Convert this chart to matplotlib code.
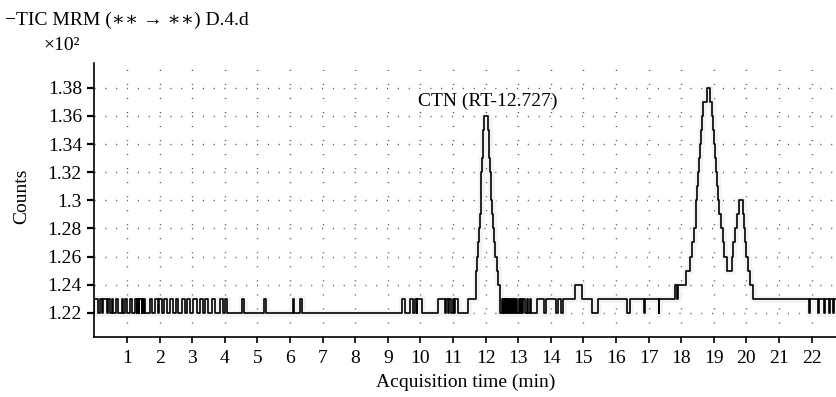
import numpy as np
import matplotlib
matplotlib.use("Agg")
import matplotlib.pyplot as plt

# ── Dados lidos do cromatograma (tempo em min, contagens x10^2) ─────────────
# ruído inicial: pulsos de 1.23 sobre a linha de base 1.22 (início, fim)
pulsos_ini = [(0.00, 0.12), (0.17, 0.22), (0.27, 0.38), (0.43, 0.48), (0.53, 0.58),
              (0.66, 0.73), (0.84, 0.89), (0.94, 1.01), (1.09, 1.14), (1.25, 1.30),
              (1.32, 1.36), (1.38, 1.45), (1.47, 1.50), (1.52, 1.55), (1.71, 1.76),
              (1.86, 1.96), (1.99, 2.06), (2.14, 2.24), (2.32, 2.42), (2.50, 2.57),
              (2.68, 2.78), (2.83, 2.93), (3.03, 3.14), (3.24, 3.34), (3.39, 3.49),
              (3.60, 3.70), (3.85, 3.95), (4.02, 4.08), (4.52, 4.58), (5.20, 5.27),
              (6.08, 6.13), (6.30, 6.36), (9.43, 9.52), (9.68, 9.78), (9.83, 9.88),
              (9.91, 10.04), (10.55, 10.74), (10.79, 10.84), (10.89, 10.95),
              (11.00, 11.03), (11.07, 11.16)]

# pico CTN (degraus: tempo de início, nível)
ctn_t = [11.47, 11.69, 11.72, 11.75, 11.78, 11.81, 11.83, 11.85, 11.87, 11.89, 11.91,
         11.93, 11.95, 12.06, 12.09, 12.11, 12.13, 12.16, 12.18, 12.21, 12.24, 12.27,
         12.30, 12.34, 12.38, 12.44]
ctn_y = [1.23, 1.24, 1.25, 1.26, 1.27, 1.28, 1.29, 1.30, 1.32, 1.33, 1.34,
         1.35, 1.36, 1.35, 1.34, 1.33, 1.32, 1.31, 1.30, 1.29, 1.28, 1.27,
         1.26, 1.25, 1.24, 1.22]

# região após o CTN até o início do pico duplo
meio_t = [12.49, 12.52, 12.54, 12.57, 12.59, 12.62, 12.64, 12.67, 12.69, 12.73, 12.75,
          12.78, 12.80, 12.84, 12.86, 12.90, 12.92, 12.97, 13.02, 13.06, 13.08, 13.13,
          13.16, 13.21, 13.26, 13.30, 13.36, 13.39, 13.58, 13.80, 13.84, 14.17, 14.21,
          14.30, 14.38, 14.74, 14.96, 15.25, 15.45, 16.33, 16.42, 16.85, 16.88, 17.31,
          17.33]
meio_y = [1.23, 1.22, 1.23, 1.22, 1.23, 1.22, 1.23, 1.22, 1.23, 1.22, 1.23,
          1.22, 1.23, 1.22, 1.23, 1.22, 1.23, 1.22, 1.23, 1.22, 1.23, 1.22,
          1.23, 1.22, 1.23, 1.22, 1.23, 1.22, 1.23, 1.22, 1.23, 1.22, 1.23,
          1.22, 1.23, 1.24, 1.23, 1.22, 1.23, 1.22, 1.23, 1.22, 1.23, 1.22,
          1.23]

# pico duplo (~18.8 e ~19.8 min) e cauda final
duplo_t = [17.82, 17.86, 17.90, 18.14, 18.26, 18.34, 18.40, 18.44, 18.47, 18.50, 18.53,
           18.56, 18.58, 18.61, 18.64, 18.68, 18.78, 18.88, 18.94, 18.98, 19.01, 19.05,
           19.08, 19.11, 19.14, 19.17, 19.22, 19.27, 19.32, 19.42, 19.55, 19.60, 19.65,
           19.70, 19.78, 19.89, 19.92, 19.96, 20.00, 20.05, 20.10, 20.19, 21.92, 21.95,
           22.20, 22.23, 22.37, 22.40, 22.55, 22.58, 22.66, 22.69, 22.75]
duplo_y = [1.24, 1.23, 1.24, 1.25, 1.26, 1.27, 1.28, 1.29, 1.30, 1.31, 1.32,
           1.33, 1.34, 1.35, 1.36, 1.37, 1.38, 1.37, 1.36, 1.35, 1.34, 1.33,
           1.32, 1.31, 1.30, 1.29, 1.28, 1.27, 1.26, 1.25, 1.26, 1.27, 1.28,
           1.29, 1.30, 1.29, 1.28, 1.27, 1.26, 1.25, 1.24, 1.23, 1.22, 1.23,
           1.22, 1.23, 1.22, 1.23, 1.22, 1.23, 1.22, 1.23, 1.23]

xticks = list(range(1, 23))
yticks = [1.22, 1.24, 1.26, 1.28, 1.3, 1.32, 1.34, 1.36, 1.38]
ytick_labels = ["1.22", "1.24", "1.26", "1.28", "1.3", "1.32", "1.34", "1.36", "1.38"]

# ── Monta o traço em degraus ────────────────────────────────────────────────
tt, yy = [0.0], [1.22]
for a, b in pulsos_ini:
    tt += [a, b]
    yy += [1.23, 1.22]
tt += ctn_t + meio_t + duplo_t
yy += ctn_y + meio_y + duplo_y

plt.rcParams["font.family"] = ["Liberation Serif", "DejaVu Serif"]
plt.rcParams["lines.scale_dashes"] = False
FS = 14

fig = plt.figure(figsize=(8.36, 3.97), dpi=100)
ax = fig.add_axes([0.113, 0.151, 0.887, 0.690])

# grade pontilhada
for x in xticks:
    ax.axvline(x, color="#555555", lw=1.0, dashes=(0.8, 9.3), zorder=0)
for y in yticks:
    ax.axhline(y, color="#555555", lw=1.0, dashes=(0.8, 7.0), zorder=0)

ax.plot(tt, yy, drawstyle="steps-post", color="#f3f3f3", lw=5, zorder=1)
ax.plot(tt, yy, drawstyle="steps-post", color="black", lw=1.2, zorder=2)

ax.text(9.93, 1.3707, "CTN (RT-12.727)", fontsize=FS, va="center", ha="left")

ax.set_xlim(0, 22.75)
ax.set_ylim(1.2027, 1.3976)
ax.set_xticks(xticks)
ax.set_xticklabels([str(x) for x in xticks], fontsize=FS)
ax.set_yticks(yticks)
ax.set_yticklabels(ytick_labels, fontsize=FS)
ax.tick_params(axis="x", direction="out", length=4, width=1.2, pad=5)
ax.tick_params(axis="y", direction="out", length=5, width=1.6, pad=4)
for s in ["top", "right"]:
    ax.spines[s].set_visible(False)
for s in ["left", "bottom"]:
    ax.spines[s].set_linewidth(1.2)

ax.set_xlabel("Acquisition time (min)", fontsize=FS, labelpad=5)
fig.text(0.026, 0.505, "Counts", rotation=90, fontsize=FS, ha="center", va="center")
fig.text(0.006, 0.950, "\u2212TIC MRM (\u2217\u2217 \u2192 \u2217\u2217) D.4.d", fontsize=FS,
         ha="left", va="center")
fig.text(0.052, 0.886, "\u00d710\u00b2", fontsize=FS, ha="left", va="center")

plt.savefig("out.png", dpi=100)
plt.close()
